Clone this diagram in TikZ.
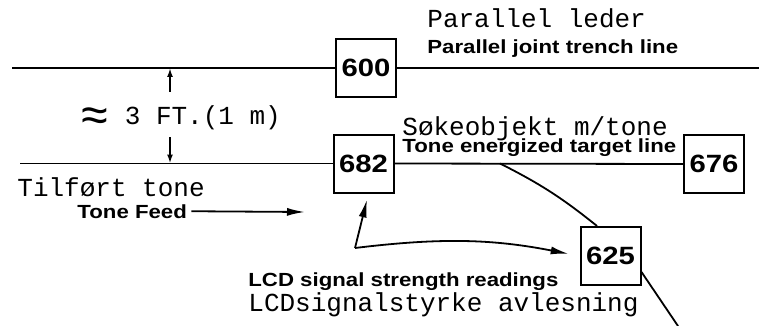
\documentclass[tikz,border=0pt]{standalone}
\usepackage{fontspec}
\newfontfamily\typefnt{Liberation Mono}
\newfontfamily\labelfnt[FakeStretch=1.17]{Liberation Sans}
\usetikzlibrary{arrows.meta}
\usetikzlibrary{calc}
\usetikzlibrary{positioning}

\begin{document}
\begin{tikzpicture}[x=0.5pt, y=-0.5pt, >=Latex]
		\tikzset{
			box/.style={draw=black, line width=1pt, minimum width=30pt, minimum height=29pt, inner sep=0pt, font=\labelfnt\bfseries\fontsize{12.5}{13}\selectfont},
			tw/.style={anchor=base west, inner sep=0pt, font=\typefnt\fontsize{13}{14}\selectfont},
			sf/.style={anchor=base west, inner sep=0pt, font=\labelfnt\bfseries\fontsize{9.5}{10}\selectfont},
			wire/.style={line width=0.9pt},
			arr/.style={-{Latex[length=9pt,width=4pt]}, line width=0.9pt},
			gap/.style={-{Latex[length=4.5pt,width=3pt]}, line width=0.9pt},
		}
		\useasboundingbox (0,0) rectangle (759,326);
		
		\node[box] (b600) at (366,68) {600};
		\node[box] (b682) at (363.5,163.5) {682};
		\node[box] (b676) at (714,164) {676};
		\node[box] (b625) at (610.5,256) {625};
		
		\node[tw] (parNo) at (427,28) {Parallel leder};
		\node[sf] (parEn) at (427,54) {Parallel joint trench line};
		\node[tw] (dist) at (80,125) {\raisebox{-3pt}{\fontsize{24}{24}\selectfont ≈}~3 FT.(1 m)};
		\node[tw] (tgtNo) at (402,135) {Søkeobjekt m/tone};
		\node[sf] (tgtEn) at (402,152) {Tone energized target line};
		\node[tw] (feedNo) at (17,196) {Tilført tone};
		\node[sf] (feedEn) at (77,218) {Tone Feed};
		\node[sf] (lcdEn) at (248,286) {LCD signal strength readings};
		\node[tw] (lcdNo) at (248,311) {LCDsignalstyrke avlesning};
		
		\coordinate (topL) at (12,68);
		\coordinate (topR) at (759,68);
		\coordinate (lowL) at (20,163.5);
		\coordinate (upA) at (170,92);
		\coordinate (dnA) at (170,137);
		\coordinate (tap) at (500,163.5);
		\coordinate (exitB) at (678,326);
		\coordinate (feedTip) at (305,212);
		\coordinate (rd) at (355,248);
		
		% lines
		\draw[wire] (topL) -- (b600.west);
		\draw[wire] (b600.east) -- (topR);
		\draw[wire] (lowL) -- (b682.west);
		\draw[wire] (b682.east) -- (b676.west);
		\draw[wire] (tap) to[bend left=6] ($(b625.north)+(-13.5,0)$);
		\draw[wire] ($(b625.east)+(0,16)$) -- (exitB);
		
		% arrows
		\draw[gap] (upA) -- (upA |- topL);
		\draw[gap] (dnA) -- (dnA |- lowL);
		\draw[arr, shorten <=2pt] (feedEn.east) -- (feedTip);
		\draw[arr] (rd) -- ($(b682.south)+(3.5,6)$);
		\draw[arr, shorten >=5.5pt] (rd) to[bend left=9] (b625.west);
	\end{tikzpicture}
\end{document}
